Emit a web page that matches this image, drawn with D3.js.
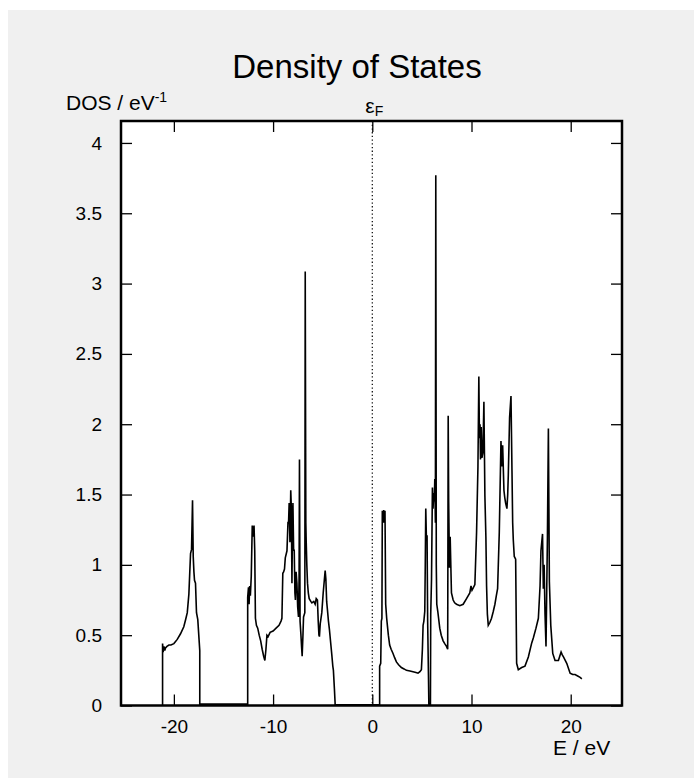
<!DOCTYPE html>
<html lang="en">
	<head>
		<meta charset="utf-8">
		<title>Density of States</title>
		<script type="text/javascript" src="https://cdn.jsdelivr.net/npm/d3@7"></script>
		<style type="text/css">
			body { margin: 0; padding: 0; background: #ffffff; }
			text { font-family: "Liberation Sans", Arial, sans-serif; fill: #000000; }
		</style>
	</head>
	<body>
		<script type="text/javascript">
			//Width and height
			var w = 694;
			var h = 778;

			//Tick labels
			var xTicks = [-20, -10, 0, 10, 20];
			var yTicks = [0, 0.5, 1, 1.5, 2, 2.5, 3, 3.5, 4];
			var fermiEnergy = 0;

			//DOS curve (E in eV, DOS in 1/eV)
			var energy = [
				-21.14, -21.14, -21.08, -21.0, -20.92, -20.84, -20.7, -20.5, -20.3, -20.0,
				-19.66, -19.33, -19.0, -18.82, -18.65, -18.49, -18.32, -18.22, -18.12, -18.05,
				-17.98, -17.92, -17.82, -17.72, -17.59, -17.39, -17.39,
				-12.56, -12.56, -12.48, -12.42, -12.36, -12.29, -12.2, -12.1, -12.0, -11.92,
				-11.85, -11.78, -11.68, -11.55, -11.4, -11.25, -11.1, -10.95, -10.83, -10.72,
				-10.62, -10.5, -10.3, -10.0, -9.7, -9.4, -9.2, -9.11, -9.02, -8.94,
				-8.85, -8.77, -8.6, -8.5, -8.44, -8.38, -8.3, -8.22, -8.16, -8.1,
				-8.04, -8.0, -7.93, -7.87, -7.8, -7.75, -7.68, -7.6, -7.52, -7.44,
				-7.38, -7.34, -7.28, -7.2, -7.13, -7.07, -6.99, -6.93, -6.8, -6.76,
				-6.7, -6.66, -6.6, -6.53, -6.45, -6.36, -6.2, -6.09, -5.9, -5.76,
				-5.65, -5.53, -5.45, -5.38, -5.33, -5.25, -5.09, -4.95, -4.85, -4.75,
				-4.68, -4.6, -4.52, -4.42, -4.32, -4.2, -4.08, -3.98, -3.92, -3.82,
				-3.75, -3.75,
				0.74, 0.74, 0.85, 0.91, 0.97, 1.01, 1.08, 1.15, 1.22, 1.28,
				1.35, 1.45, 1.52, 1.62, 1.75, 1.9, 2.09, 2.25, 2.43, 2.65,
				2.93, 3.2, 3.44, 3.8, 4.11, 4.4, 4.61, 4.8, 4.95, 5.05,
				5.12, 5.2, 5.29, 5.34, 5.39, 5.45, 5.52, 5.58, 5.66, 5.7,
				5.86, 5.89, 5.97, 6.06, 6.12, 6.2, 6.25, 6.3, 6.36, 6.4,
				6.45, 6.5, 6.6, 6.8, 6.95, 7.14, 7.3, 7.48, 7.6, 7.65,
				7.7, 7.78, 7.85, 7.98, 8.15, 8.3, 8.49, 8.82, 9.16, 9.5,
				9.83, 9.95, 10.05, 10.2, 10.34, 10.51, 10.65, 10.74, 10.8, 10.86,
				10.91, 10.98, 11.05, 11.15, 11.25, 11.35, 11.45, 11.52, 11.6, 11.69,
				11.85, 12.02, 12.2, 12.36, 12.5, 12.63, 12.8, 12.97, 13.05, 13.14,
				13.27, 13.35, 13.44, 13.57, 13.65, 13.71, 13.84, 13.98, 14.08, 14.15,
				14.21, 14.31, 14.45, 14.55, 14.72, 15.06, 15.39, 15.73, 16.07, 16.23,
				16.5, 16.74, 16.91, 17.0, 17.08, 17.16, 17.24, 17.32, 17.41, 17.51,
				17.58, 17.65, 17.75, 17.85, 17.99, 18.19, 18.42, 18.76, 19.03, 19.15,
				19.27, 19.6, 19.94, 20.2, 20.44, 20.7, 20.95, 21.12
			];
			var dos = [
				0, 0.44, 0.38, 0.42, 0.39, 0.41, 0.42, 0.43, 0.43, 0.44,
				0.47, 0.51, 0.56, 0.61, 0.66, 0.79, 1.08, 1.11, 1.46, 1.06,
				0.95, 0.89, 0.87, 0.66, 0.61, 0.39, 0.01,
				0.01, 0.77, 0.84, 0.72, 0.85, 0.78, 0.92, 1.28, 1.2, 1.28,
				1.1, 0.62, 0.57, 0.55, 0.5, 0.46, 0.4, 0.35, 0.32, 0.4,
				0.5, 0.49, 0.52, 0.53, 0.55, 0.57, 0.6, 0.62, 0.94, 0.95,
				0.97, 1.05, 1.1, 1.3, 1.3, 1.44, 1.16, 1.53, 1.4, 0.87,
				1.3, 1.44, 1.1, 1.11, 0.8, 0.75, 0.95, 0.87, 0.7, 0.63,
				0.9, 1.75, 0.6, 0.51, 0.42, 0.35, 0.5, 0.63, 0.66, 3.085,
				1.3, 1.16, 1.0, 0.87, 0.8, 0.76, 0.74, 0.73, 0.74, 0.72,
				0.76, 0.75, 0.6, 0.5, 0.49, 0.58, 0.66, 0.8, 0.88, 0.96,
				0.9, 0.74, 0.68, 0.6, 0.54, 0.45, 0.36, 0.28, 0.25, 0.12,
				0.02, 0.005,
				0.005, 0.28, 0.3, 0.6, 0.62, 1.385, 1.3, 1.39, 1.3, 1.385,
				0.72, 0.62, 0.57, 0.5, 0.43, 0.4, 0.37, 0.34, 0.31, 0.29,
				0.27, 0.26, 0.25, 0.245, 0.24, 0.235, 0.23, 0.24, 0.255, 0.4,
				0.57, 0.6, 0.67, 1.0, 1.4, 1.2, 1.21, 0.6, 0.22, 0.01,
				0.01, 0.65, 0.9, 1.55, 1.4, 1.51, 1.45, 1.61, 1.3, 3.77,
				1.0, 0.72, 0.67, 0.55, 0.5, 0.46, 0.44, 0.42, 0.4, 2.06,
				1.45, 0.98, 1.2, 0.8, 0.75, 0.73, 0.72, 0.71, 0.72, 0.76,
				0.8, 0.85, 0.82, 0.84, 0.86, 1.23, 1.7, 2.34, 1.9, 2.0,
				1.75, 1.98, 1.76, 1.8, 2.16, 1.49, 1.2, 0.85, 0.65, 0.57,
				0.59, 0.62, 0.67, 0.72, 0.78, 0.83, 1.23, 1.88, 1.7, 1.85,
				1.53, 1.48, 1.44, 1.4, 1.5, 1.64, 2.05, 2.2, 1.67, 1.3,
				1.18, 1.06, 1.04, 0.3, 0.255, 0.27, 0.28, 0.345, 0.445, 0.48,
				0.55, 0.62, 0.85, 1.1, 1.16, 1.22, 0.83, 1.0, 0.65, 0.42,
				0.8, 1.18, 1.97, 0.88, 0.57, 0.37, 0.32, 0.32, 0.38, 0.36,
				0.345, 0.3, 0.23, 0.22, 0.22, 0.21, 0.2, 0.19
			];

			var dataset = energy.map(function(e, i) {
				return [e, dos[i]];
			});

			//Plot box
			var boxLeft = 121, boxRight = 622, boxTop = 121, boxBottom = 705.5;

			//Scales
			var x = d3.scaleLinear()
					  .domain([-25.33, 25.17])
					  .range([boxLeft, boxRight]);
			var y = d3.scaleLinear()
					  .domain([0, 4.156])
					  .range([boxBottom, boxTop]);

			//Create SVG element
			var svg = d3.select("body")
						.append("svg")
						.attr("width", w)
						.attr("height", h);

			//Grey window background
			svg.append("rect")
			   .attr("x", 8)
			   .attr("y", 10)
			   .attr("width", w - 8)
			   .attr("height", h - 10)
			   .attr("fill", "#f0f0f0");

			svg.append("rect")
			   .attr("x", boxLeft)
			   .attr("y", boxTop)
			   .attr("width", boxRight - boxLeft)
			   .attr("height", boxBottom - boxTop)
			   .attr("fill", "#ffffff");

			//Axes, ticks pointing inwards
			var plainFormat = function(d) { return String(d); };
			var xAxis = d3.axisBottom(x)
						  .tickValues(xTicks)
						  .tickSizeInner(-11)
						  .tickSizeOuter(0)
						  .tickPadding(14)
						  .tickFormat(plainFormat);
			var xAxisTop = d3.axisTop(x)
						  .tickValues(xTicks)
						  .tickSizeInner(-11)
						  .tickSizeOuter(0)
						  .tickFormat("");
			var yAxis = d3.axisLeft(y)
						  .tickValues(yTicks)
						  .tickSizeInner(-11)
						  .tickSizeOuter(0)
						  .tickPadding(19)
						  .tickFormat(plainFormat);
			var yAxisRight = d3.axisRight(y)
						  .tickValues(yTicks)
						  .tickSizeInner(-11)
						  .tickSizeOuter(0)
						  .tickFormat("");

			var gx = svg.append("g")
						.attr("transform", "translate(0," + boxBottom + ")")
						.call(xAxis);
			svg.append("g")
			   .attr("transform", "translate(0," + boxTop + ")")
			   .call(xAxisTop);
			var gy = svg.append("g")
						.attr("transform", "translate(" + boxLeft + ",0)")
						.call(yAxis);
			svg.append("g")
			   .attr("transform", "translate(" + boxRight + ",0)")
			   .call(yAxisRight);

			svg.selectAll(".domain").remove();
			svg.selectAll(".tick line")
			   .attr("stroke", "#000")
			   .attr("stroke-width", 1.3);
			svg.selectAll(".tick text")
			   .attr("font-family", "'Liberation Sans', Arial, sans-serif")
			   .attr("font-size", "19px")
			   .attr("fill", "#000");

			//Fermi level
			svg.append("line")
			   .attr("x1", x(fermiEnergy))
			   .attr("x2", x(fermiEnergy))
			   .attr("y1", boxTop)
			   .attr("y2", boxBottom)
			   .attr("stroke", "#000")
			   .attr("stroke-width", 1.2)
			   .attr("stroke-dasharray", "1.3,2.4");

			//DOS curve
			var line = d3.line()
						 .x(function(d) { return x(d[0]); })
						 .y(function(d) { return y(d[1]); });

			svg.append("path")
			   .datum(dataset)
			   .attr("d", line)
			   .attr("fill", "none")
			   .attr("stroke", "#000")
			   .attr("stroke-width", 1.6)
			   .attr("stroke-linejoin", "miter");

			//Frame
			svg.append("rect")
			   .attr("x", boxLeft)
			   .attr("y", boxTop)
			   .attr("width", boxRight - boxLeft)
			   .attr("height", boxBottom - boxTop)
			   .attr("fill", "none")
			   .attr("stroke", "#000")
			   .attr("stroke-width", 2.5);

			//Title and labels
			svg.append("text")
			   .attr("x", 357)
			   .attr("y", 78)
			   .attr("text-anchor", "middle")
			   .attr("font-size", "33px")
			   .text("Density of States");

			var ylab = svg.append("text")
						  .attr("x", 66)
						  .attr("y", 110)
						  .attr("font-size", "21px");
			ylab.append("tspan").text("DOS / eV");
			ylab.append("tspan")
				.attr("dy", -8)
				.attr("font-size", "14px")
				.text("-1");

			var ef = svg.append("text")
						.attr("x", x(fermiEnergy) - 7)
						.attr("y", 113)
						.attr("font-size", "21px");
			ef.append("tspan").text("ε");
			ef.append("tspan")
			  .attr("dy", 3)
			  .attr("font-size", "14px")
			  .text("F");

			svg.append("text")
			   .attr("x", 553)
			   .attr("y", 755)
			   .attr("font-size", "21px")
			   .text("E / eV");
		</script>
	</body>
</html>
